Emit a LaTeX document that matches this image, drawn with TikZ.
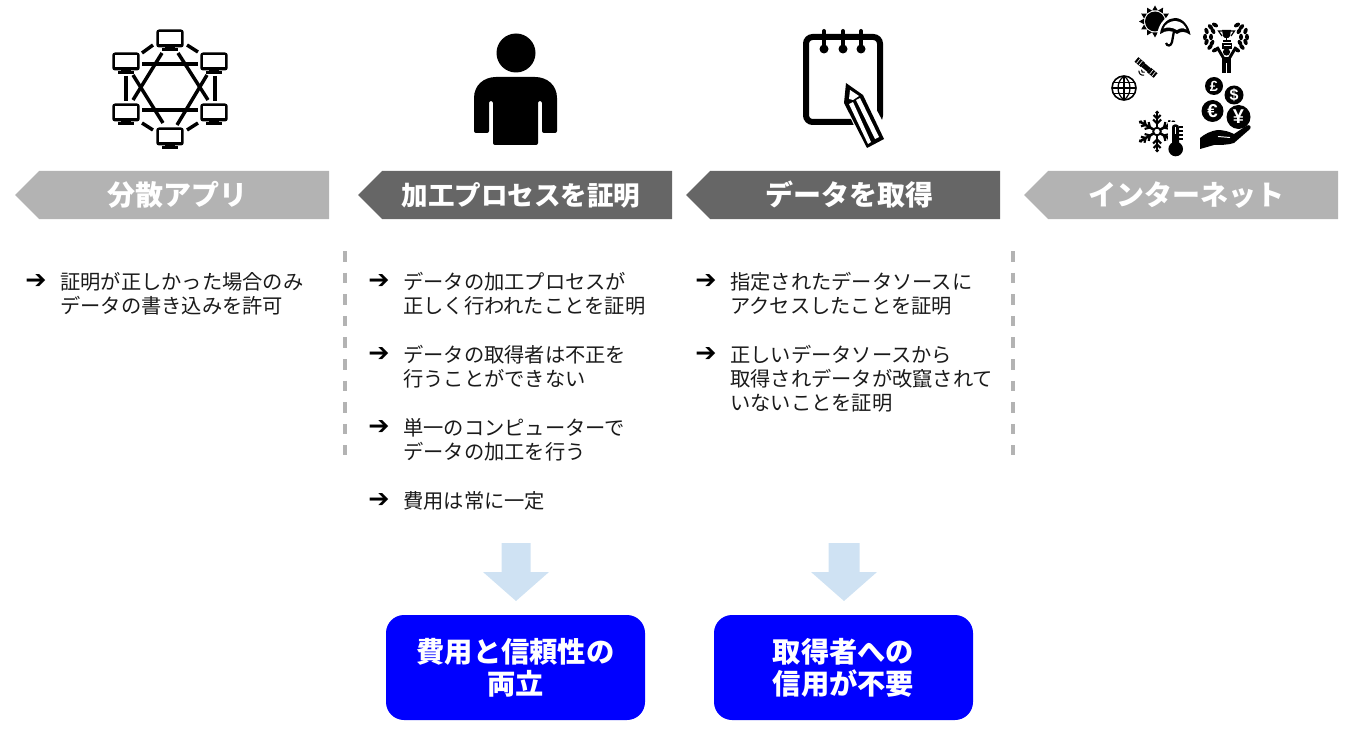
\documentclass[tikz,border=0pt]{standalone}
\usepackage{fontspec}
\setmainfont{Noto Sans CJK JP}
\newfontfamily\arrowfont{DejaVu Sans}
\newfontfamily\coinfont{Liberation Sans}
\usetikzlibrary{shapes.geometric}
\definecolor{bannerlight}{HTML}{B3B3B3}
\definecolor{bannerdark}{HTML}{666666}
\definecolor{downfill}{HTML}{CFE2F3}
\definecolor{boxblue}{HTML}{0000FF}
\definecolor{textgrey}{HTML}{1A1A1A}
\tikzset{
  bantext/.style={text=white,font=\fontsize{21}{24}\bfseries\selectfont,inner sep=0pt},
  bantextb/.style={text=white,font=\fontsize{19.9}{24}\bfseries\selectfont,inner sep=0pt},
  bodytext/.style={anchor=west,align=left,inner sep=0pt,text=textgrey,font=\fontsize{15.2}{18}\selectfont},
  bullet/.style={inner sep=0pt,text=black,font=\fontsize{19}{18}\arrowfont\selectfont},
  bluebox/.style={fill=boxblue,rounded corners=13.5pt,text=white,align=center,inner sep=0pt,
    minimum width=194.25pt,minimum height=78.75pt,font=\fontsize{21.2}{24}\bfseries\selectfont},
  divider/.style={draw=bannerlight,line width=2.5pt,dash pattern=on 8pt off 8.2pt},
  netlink/.style={draw=black,line width=2.6pt},
  coin/.style={text=white,inner sep=0pt,font=\coinfont\bfseries\fontsize{#1}{#1}\selectfont},
  leaf/.style={black}
}
\newcommand{\bannershape}[3]{% left x, right x, colour
  \fill[#3] (#1,195) -- (#1+24,171) -- (#2,171) -- (#2,219) -- (#1+24,219) -- cycle;}
\newcommand{\downshape}[3]{% centre x, half shaft, colour
  \fill[downfill] (#1-#2,543) -- (#1+#2,543) -- (#1+#2,572) -- (#1+33,572) -- (#1,601) -- (#1-33,572) -- (#1-#2,572) -- cycle;}
\newcommand{\monitor}[2]{%
  \fill[black,rounded corners=2pt] (#1-13.7,#2-9.5) rectangle (#1+13.7,#2+8.5);
  \fill[white] (#1-11,#2-6.8) rectangle (#1+11,#2+5.5);
  \fill[black] (#1-5,#2+8) rectangle (#1+5,#2+10);
  \fill[black] (#1-8,#2+9.5) rectangle (#1+8,#2+12);}
\begin{document}
\begin{tikzpicture}[x=0.75pt,y=-0.75pt]
\useasboundingbox (0,0) rectangle (1356,731);

% --- banners
\bannershape{15}{329}{bannerlight}
\bannershape{358}{672}{bannerdark}
\bannershape{686}{1000}{bannerdark}
\bannershape{1024}{1338}{bannerlight}
\node[bantext] (b1) at (177.5,195) {分散アプリ};
\node[bantextb] (b2) at (521,195) {加工プロセスを証明};
\node[bantext] (b3) at (849.5,195) {データを取得};
\node[bantext] (b4) at (1186,195) {インターネット};

% --- dividers
\coordinate (d1a) at (345,251); \coordinate (d1b) at (345,455);
\coordinate (d2a) at (1013,251); \coordinate (d2b) at (1013,455);
\draw[divider] (d1a) -- (d1b);
\draw[divider] (d2a) -- (d2b);

% --- bullets, column 1
\node[bullet] (a11) at (36,282) {➔};
\node[bodytext] (t11) at (60,294) {証明が正しかった場合のみ\\データの書き込みを許可};
% column 2
\node[bullet] (a21) at (379,282) {➔};
\node[bodytext] (t21) at (403,294) {データの加工プロセスが\\正しく行われたことを証明};
\node[bullet] (a22) at (379,355) {➔};
\node[bodytext] (t22) at (403,367) {データの取得者は不正を\\行うことができない};
\node[bullet] (a23) at (379,428) {➔};
\node[bodytext] (t23) at (403,440) {単一のコンピューターで\\データの加工を行う};
\node[bullet] (a24) at (379,501) {➔};
\node[bodytext] (t24) at (403,501) {費用は常に一定};
% column 3
\node[bullet] (a31) at (706,282) {➔};
\node[bodytext] (t31) at (730,294) {指定されたデータソースに\\アクセスしたことを証明};
\node[bullet] (a32) at (706,355) {➔};
\node[bodytext] (t32) at (730,379) {正しいデータソースから\\取得されデータが改竄されて\\いないことを証明};

% --- down arrows
\downshape{516}{14.5}{downfill}
\downshape{844}{15.5}{downfill}

% --- blue boxes
\node[bluebox] (r1) at (515.5,667.5) {\raisebox{-1pt}{費用と信頼性の}\\\raisebox{-1pt}{両立}};
\node[bluebox] (r2) at (843.5,667.5) {\raisebox{-1pt}{取得者への}\\\raisebox{-1pt}{信用が不要}};

% --- network icon
\draw[netlink] (142,53) -- (153,45);
\draw[netlink] (187,45) -- (198,52);
\draw[netlink] (142,123) -- (153,130);
\draw[netlink] (187,130) -- (198,123);
\draw[netlink] (126,76) -- (126,101);
\draw[netlink] (215,76) -- (215,101);
\draw[netlink] (162,53) -- (133,100);
\draw[netlink] (178,53) -- (208,100);
\draw[netlink] (142,64) -- (198,64);
\draw[netlink] (142,110) -- (198,110);
\draw[netlink] (133,75) -- (163,123);
\draw[netlink] (207,75) -- (177,125);
\monitor{170}{39}
\monitor{126}{62}
\monitor{214}{62}
\monitor{126}{113}
\monitor{214}{113}
\monitor{170}{137}

% --- person icon
\fill[black] (516,53) circle (19.5);
\fill[black,rounded corners=1.5pt] (474,133) -- (474,100)
  .. controls (474,85) and (484,77) .. (498,77) -- (533,77)
  .. controls (547,77) and (557,85) .. (557,100) -- (557,133) -- (542,133) -- (542,101) -- (538,101)
  -- (538,145) -- (493,145) -- (493,101) -- (489,101) -- (489,133) -- cycle;

% --- notepad icon
\draw[black,line width=4.5pt,rounded corners=5pt] (806,37) rectangle (880,122);
\foreach \x in {824,843,861}{
  \draw[black,line width=3pt,line cap=round] (\x,31) -- (\x,48);
  \fill[black] (\x,49) circle (4.5);
}
\fill[white] (843,101) -- (847,78) -- (867,92) -- (890,135) -- (890,152) -- (866,152) -- cycle;
\fill[black] (846,83) -- (863,95) -- (884,139) -- (867,148) -- (844,103) -- cycle;
\fill[white] (850,90) -- (859,96) -- (853,100) -- (849,99) -- cycle;
\fill[white] (849,104) -- (853,102) -- (871,142) -- (868,144) -- cycle;
\fill[white] (856,100) -- (860,98) -- (879,137) -- (875,139) -- cycle;

% --- sun + umbrella
\begin{scope}[shift={(1155,21.5)}]
\foreach \a in {0,30,...,330}{
  \begin{scope}[rotate=\a]
    \fill[black] (11,-2.8) -- (16,0) -- (11,2.8) -- cycle;
  \end{scope}
}
\fill[black] (0,0) circle (10);
\end{scope}
\fill[white] (1157,36) .. controls (1158,22) and (1168,14) .. (1176,15) -- (1194,38) -- (1172,40) -- cycle;
\fill[black] (1160,34) .. controls (1161,24) and (1168,18) .. (1175,18) .. controls (1183,18) and (1189,26) .. (1190.5,35)
  .. controls (1185,31) and (1181,31) .. (1177,34) .. controls (1172,30) and (1166,30) .. (1160,34) -- cycle;
\fill[white] (1163.5,28.5) .. controls (1165,24.5) and (1170,21) .. (1175,21) .. controls (1181,21) and (1185,25) .. (1186.5,29.5)
  .. controls (1183,27.5) and (1180,28) .. (1177,30) .. controls (1172,27) and (1167,27) .. (1163.5,28.5) -- cycle;
\draw[black,line width=1.7pt] (1174,31) -- (1172,42) .. controls (1171,46.5) and (1167,46.5) .. (1166,43);

% --- trophy man
\foreach \x/\y/\r in {1215/25/-30,1210.5/27/-50,1206.5/31/-70,1205/37/-95,1206.5/42/-110,1210/47/-130,1215/50/-150,
                      1213/31/-60,1211/37/-90,1212/43/-120}{
  \fill[leaf,rotate around={\r:(\x,\y)}] (\x,\y) ellipse (3.3 and 2);
  \fill[leaf,rotate around={-\r:({2452-\x},\y)}] ({2452-\x},\y) ellipse (3.3 and 2);
}
\fill[black] (1222,30) -- (1231,30) -- (1230,36) .. controls (1229,38) and (1228,38) .. (1227,38) -- (1226,38) .. controls (1225,38) and (1224,38) .. (1223,36) -- cycle;
\draw[black,line width=.9pt] (1222,31) -- (1218.5,31) -- (1222,36);
\draw[black,line width=.9pt] (1231,31) -- (1234.5,31) -- (1231,36);
\fill[black] (1226,37) rectangle (1227,41);
\fill[black] (1222.5,40.5) rectangle (1230.5,42.5);
\fill[black] (1222,43.5) rectangle (1232,49);
\fill[white] (1223.5,45) rectangle (1230.5,46.5);
\fill[black] (1226.5,52) circle (3.6);
\draw[black,line width=2.2pt] (1217,47) -- (1223.5,58);
\draw[black,line width=2.2pt] (1236,47) -- (1229.5,58);
\fill[black] (1222,57) rectangle (1231,73);
\fill[white] (1226,63) rectangle (1227,73);

% --- globe + satellite
\begin{scope}[shift={(1124,88)}]
\draw[black,line width=1.2pt] (0,0) circle (12);
\draw[black,line width=.9pt] (-12,0) -- (12,0) (0,-12) -- (0,12)
  (-10.5,-5.5) -- (10.5,-5.5) (-10.5,5.5) -- (10.5,5.5);
\draw[black,line width=.9pt] (0,-12) .. controls (-8,-6) and (-8,6) .. (0,12);
\draw[black,line width=.9pt] (0,-12) .. controls (8,-6) and (8,6) .. (0,12);
\end{scope}
\begin{scope}[shift={(1146,67.5)},rotate=-40]
\fill[black] (-12.5,-3) rectangle (-4,3);
\fill[black] (4,-3) rectangle (12.5,3);
\fill[black] (-4,-2.5) rectangle (4,2.5);
\draw[white,line width=.45pt] (-10,-3) -- (-10,3) (-7,-3) -- (-7,3) (7,-3) -- (7,3) (10,-3) -- (10,3);
\draw[black,line width=.8pt] (-2,4.5) .. controls (-1,6.5) and (1,6.5) .. (2,4.5);
\draw[black,line width=.8pt] (-3.5,7) .. controls (-1,9.5) and (1,9.5) .. (3.5,7);
\end{scope}

% --- coins + hand
\fill[black] (1214,86) circle (9);
\node[coin=11] (c1) at (1214,86) {£};
\fill[black] (1234,95) circle (9.5);
\node[coin=12] (c2) at (1234,95) {\$};
\fill[black] (1212.5,111) circle (11);
\node[coin=14] (c3) at (1212.5,111) {€};
\fill[black] (1238.5,117) circle (12);
\node[coin=15] (c4) at (1238.5,117) {¥};
\fill[black] (1200,138) .. controls (1205,134) and (1210,131) .. (1218,130) .. controls (1224,130) and (1230,132) .. (1234,134)
  -- (1246,126) .. controls (1249,124) and (1252,126) .. (1250,129) -- (1234,143)
  .. controls (1228,145) and (1220,145) .. (1214,145) -- (1200,149) -- cycle;
\draw[white,line width=.7pt] (1218,136.5) -- (1230,137.5);

% --- snowflake + thermometer
\begin{scope}[shift={(1157,131.5)}]
\foreach \a in {30,90,...,330}{
  \begin{scope}[rotate=\a]
    \draw[black,line width=1.9pt] (3.5,0) -- (18,0);
    \draw[black,line width=1.6pt] (8,0) -- (12,-4) (8,0) -- (12,4);
    \draw[black,line width=1.6pt] (13,0) -- (16.5,-3.5) (13,0) -- (16.5,3.5);
    \fill[black] (17,0) -- (19,-2) -- (21,0) -- (19,2) -- cycle;
  \end{scope}
}
\draw[black,line width=1.4pt] (0,0) circle (3.8);
\end{scope}
\fill[white] (1168,122) rectangle (1185,158);
\fill[black,rounded corners=2pt] (1172,124.5) rectangle (1179,146);
\fill[black] (1175.7,149) circle (7.3);
\fill[white] (1174.6,127) rectangle (1176.2,134);
\foreach \y in {126,130,134,138}{ \fill[black] (1179,\y) rectangle (1182.5,\y+1.6); }
\end{tikzpicture}
\end{document}
